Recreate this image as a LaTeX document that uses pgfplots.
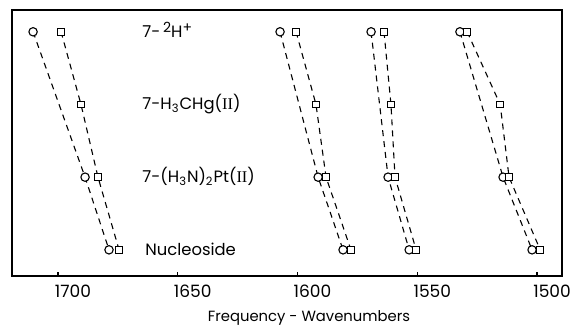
\documentclass[border=0pt]{standalone}
\usepackage{fontspec}
\setmainfont{Poppins}
\newfontfamily\serifii{Liberation Serif}
\usepackage{pgfplots}
\pgfplotsset{compat=1.18}
\newcommand{\sups}[1]{\raisebox{0.55ex}{\fontsize{7}{8}\selectfont #1}}
\begin{document}
\begin{tikzpicture}
\path[use as bounding box] (-6pt,-24.5pt) rectangle (280pt,138pt);
\begin{axis}[
 at={(0,0)}, anchor=south west,
 scale only axis, width=275pt, height=133pt,
 x dir=reverse, xmin=1489.6, xmax=1719.2,
 ymin=0.64, ymax=4.30,
 ytick=\empty,
 xtick={1500,1550,1600,1650,1700},
 xtick pos=left, tick align=inside, major tick length=2pt,
 /pgf/number format/assume math mode=true,
 /pgf/number format/1000 sep={},
 xticklabel style={font=\fontsize{8.5}{10}\selectfont, anchor=base, yshift=-11pt, xshift=7.5pt},
 axis line style={line width=0.9pt},
 every tick/.style={black, line width=0.6pt},
 xlabel={Frequency - Wavenumbers},
 xlabel style={at={(rel axis cs:0.54,0)}, anchor=base, yshift=-23pt, font=\fontsize{7.4}{9}\selectfont},
 every axis plot/.append style={black, line width=0.55pt, dash pattern=on 3pt off 2.5pt},
 clip=false,
]
% circles
\addplot[mark=*, mark size=2.1pt, mark options={solid, fill=white}] coordinates {(1710.4,4) (1688.7,2) (1678.7,1)};
\addplot[mark=*, mark size=2.1pt, mark options={solid, fill=white}] coordinates {(1607.3,4) (1591.4,2) (1581.0,1)};
\addplot[mark=*, mark size=2.1pt, mark options={solid, fill=white}] coordinates {(1569.3,4) (1562.2,2) (1553.4,1)};
\addplot[mark=*, mark size=2.1pt, mark options={solid, fill=white}] coordinates {(1532.2,4) (1514.2,2) (1502.1,1)};
% squares
\addplot[mark=square*, mark size=1.7pt, mark options={solid, fill=white}] coordinates {(1698.7,4) (1690.4,3) (1683.3,2) (1674.5,1)};
\addplot[mark=square*, mark size=1.7pt, mark options={solid, fill=white}] coordinates {(1600.6,4) (1592.3,3) (1588.1,2) (1577.7,1)};
\addplot[mark=square*, mark size=1.7pt, mark options={solid, fill=white}] coordinates {(1563.9,4) (1561.0,3) (1559.3,2) (1550.5,1)};
\addplot[mark=square*, mark size=1.7pt, mark options={solid, fill=white}] coordinates {(1529.2,4) (1515.4,3) (1511.7,2) (1498.7,1)};
% labels
\node[anchor=base west, inner sep=0pt, font=\fontsize{8.2}{9}\selectfont, yshift=-2.75pt] at (axis cs:1664.9,4) {7-\,\sups{2}H\sups{+}};
\node[anchor=base west, inner sep=0pt, font=\fontsize{8.2}{9}\selectfont, yshift=-2.75pt] at (axis cs:1664.9,3) {7-H\textsubscript{3}CHg({\serifii II})};
\node[anchor=base west, inner sep=0pt, font=\fontsize{8.2}{9}\selectfont, yshift=-2.75pt] at (axis cs:1664.9,2) {7-(H\textsubscript{3}N)\textsubscript{2}Pt({\serifii II})};
\node[anchor=base west, inner sep=0pt, font=\fontsize{8.2}{9}\selectfont, yshift=-2.75pt] at (axis cs:1663.7,1) {Nucleoside};
\end{axis}
\end{tikzpicture}
\end{document}
